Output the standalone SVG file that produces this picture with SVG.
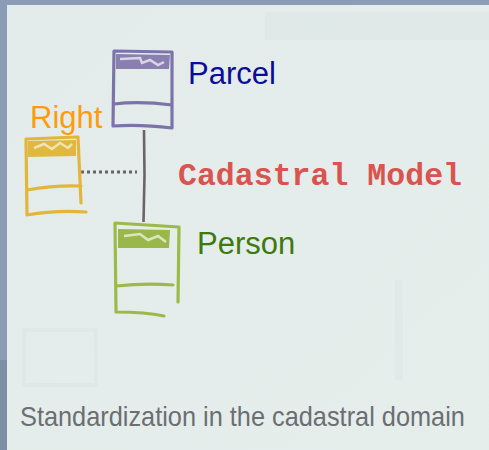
<svg xmlns="http://www.w3.org/2000/svg" width="489" height="450" viewBox="0 0 489 450">
<defs>
<linearGradient id="bg" x1="0" y1="0" x2="1" y2="1">
<stop offset="0" stop-color="#e3ecea"/>
<stop offset="1" stop-color="#e6eeec"/>
</linearGradient>
</defs>
<style>
.box{fill:none;stroke-width:3.2;stroke-linecap:round;stroke-linejoin:round}
.lbl{font-family:"Liberation Sans",Arial,sans-serif;font-size:31px}
.ghost{fill:#dae4e4;opacity:0.45}
</style>
<rect width="489" height="450" fill="#8b9db6"/>
<rect x="7" y="5" width="482" height="445" fill="url(#bg)"/>
<rect class="ghost" x="265" y="12" width="224" height="28"/>
<rect class="ghost" x="395" y="280" width="8" height="100"/>
<rect x="24" y="330" width="72" height="55" fill="none" stroke="#dbe4e4" stroke-width="4" opacity="0.5"/>
<rect x="0" y="360" width="7" height="90" fill="#7d8ea6"/>

<g id="connectors">
<path d="M144 130 L144.5 175 L143.5 222" stroke="#6a6468" stroke-width="2.6" fill="none"/>
<path d="M81 172 L137 172" stroke="#646468" stroke-width="3" stroke-dasharray="3 3" fill="none"/>
</g>

<g id="parcel">
<path class="box" stroke="#7c74a8" d="M114 51 L172 52 L172 128 M114 51 L113 126 Q140 124 172 128 M114 104 Q140 101 172 105"/>
<path d="M116 54 L170 55 L169 69 L116 69 Z" fill="#8a80b0"/>
<path d="M120 59 L140 58 L142 63 L150 60 L158 65 L164 62" stroke="#d8d6e6" stroke-width="2.5" fill="none"/>
<text class="lbl" x="188" y="84" fill="#0c0c9c">Parcel</text>
</g>

<g id="right">
<path class="box" stroke="#e3b63a" d="M26 139 L78 137 L81 203 M26 139 L27 215 Q55 210 86 212 M27 190 Q55 185 81 186"/>
<path d="M28 141 L76 140 L76 156 L28 157 Z" fill="#e0b840"/>
<path d="M34 148 L44 144 L52 149 L60 143 L68 148 L72 144" stroke="#f0e3b0" stroke-width="2.5" fill="none"/>
<text class="lbl" x="30" y="128" fill="#ff9b0a">Right</text>
</g>

<g id="person">
<path class="box" stroke="#9cba4a" d="M115 223 L179 227 L178 302 M115 223 L116 312 Q145 312 164 316 M116 286 Q145 283 173 285"/>
<path d="M118 229 L170 230 L169 248 L118 248 Z" fill="#9ab84a"/>
<path d="M124 236 L140 234 L148 240 L158 236 L166 242" stroke="#dbe6c0" stroke-width="2.5" fill="none"/>
<text class="lbl" x="197" y="254" fill="#3c7a0e">Person</text>
</g>

<text x="178" y="185" font-family="'Liberation Mono','Courier New',monospace" font-weight="bold" font-size="31" fill="#d9544f" textLength="284" lengthAdjust="spacingAndGlyphs">Cadastral Model</text>
<text transform="translate(20 426) scale(0.905 1)" x="0" y="0" font-family="'Liberation Sans',Arial,sans-serif" font-size="28" fill="#6b6f72">Standardization in the cadastral domain</text>
</svg>
